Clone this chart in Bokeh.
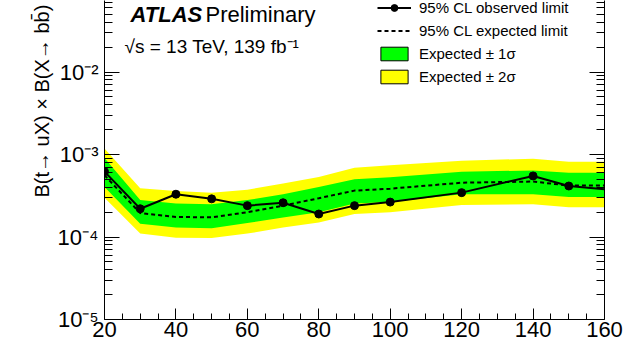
import math
from bokeh.plotting import figure
from bokeh.models import (FixedTicker, LogAxis, Label, Legend, LegendItem,
                          Range1d, CustomJSTickFormatter, Title)
from bokeh.embed import file_html
from bokeh.resources import INLINE

# ---------------- data ----------------
masses = [20, 30, 40, 50, 60, 70, 80, 90, 100, 120, 140, 150, 160]
observed = [6.2e-4, 2.2e-4, 3.3e-4, 2.9e-4, 2.4e-4, 2.6e-4, 1.9e-4,
            2.4e-4, 2.65e-4, 3.45e-4, 5.5e-4, 4.15e-4, 3.8e-4]
expected = [5.6e-4, 1.95e-4, 1.75e-4, 1.73e-4, 2.0e-4, 2.4e-4, 2.95e-4,
            3.65e-4, 3.85e-4, 4.55e-4, 4.7e-4, 4.2e-4, 4.2e-4]
exp_p1 = [9.1e-4, 2.8e-4, 2.55e-4, 2.5e-4, 2.8e-4, 3.3e-4, 4.05e-4,
          5.0e-4, 5.3e-4, 6.2e-4, 6.4e-4, 6.0e-4, 6.0e-4]
exp_m1 = [4.05e-4, 1.45e-4, 1.3e-4, 1.28e-4, 1.48e-4, 1.72e-4, 2.0e-4,
          2.55e-4, 2.65e-4, 3.3e-4, 3.3e-4, 3.05e-4, 3.05e-4]
exp_p2 = [1.18e-3, 3.9e-4, 3.6e-4, 3.45e-4, 3.75e-4, 4.45e-4, 5.35e-4,
          6.9e-4, 7.4e-4, 8.4e-4, 8.9e-4, 8.15e-4, 8.15e-4]
exp_m2 = [3.0e-4, 1.1e-4, 9.8e-5, 9.7e-5, 1.1e-4, 1.3e-4, 1.5e-4,
          1.9e-4, 2.0e-4, 2.45e-4, 2.5e-4, 2.3e-4, 2.3e-4]
marker_masses = masses[:-1]
marker_observed = observed[:-1]

x_major = [20, 40, 60, 80, 100, 120, 140, 160]
x_minor = [25, 30, 35, 45, 50, 55, 65, 70, 75, 85, 90, 95, 105, 110, 115,
           125, 130, 135, 145, 150, 155]
y_major = [1e-5, 1e-4, 1e-3, 1e-2, 1e-1]
y_major_labels = ["10⁻⁵", "10⁻⁴", "10⁻³", "10⁻²", "10⁻¹"]

y_title = "B(t→ uX) × B(X→ bb̄)"
legend_labels = ["95% CL observed limit", "95% CL expected limit",
                 "Expected ± 1σ", "Expected ± 2σ"]

# ---------------- layout ----------------
FONT = "Liberation Sans"
W, H = 624, 344
FRAME_L, FRAME_R = 104, 604         # canvas px
BOTTOM_BORDER = 25
FRAME_B = H - BOTTOM_BORDER         # canvas px of 1e-5
Y_1E3 = 154                         # canvas px of 1e-3
decade = (FRAME_B - Y_1E3) / 2.0
y_top = 10 ** (-3 + Y_1E3 / decade)


def xd(cx):
    return 20 + (cx - FRAME_L) * 140.0 / (FRAME_R - FRAME_L)


def yd(cy):
    return 10 ** (-3 + (Y_1E3 - cy) / decade)


p = figure(width=W, height=H, output_backend="svg", toolbar_location=None,
           y_axis_type="log", x_range=Range1d(20, 160),
           y_range=Range1d(1e-5, y_top),
           min_border_left=FRAME_L, min_border_right=W - FRAME_R,
           min_border_top=0, min_border_bottom=BOTTOM_BORDER)
p.outline_line_color = None
p.xgrid.visible = False
p.ygrid.visible = False
p.background_fill_color = "white"
p.border_fill_color = "white"

xt = FixedTicker(ticks=x_major, minor_ticks=x_minor)
yminor = [k * 10 ** e for e in range(-5, -1) for k in range(2, 10)]
yt = FixedTicker(ticks=y_major, minor_ticks=yminor)

xa = p.xaxis[0]
xa.ticker = xt
xa.major_tick_in = 11
xa.major_tick_out = 0
xa.minor_tick_in = 6
xa.minor_tick_out = 0
xa.major_label_standoff = 2
xa.major_label_text_font = FONT
xa.major_label_text_font_size = "22px"
xa.major_label_text_color = "black"
xa.axis_line_color = "black"

ya = p.yaxis[0]
ya.ticker = yt
ya.major_tick_in = 15
ya.major_tick_out = 0
ya.minor_tick_in = 8
ya.minor_tick_out = 0
ya.major_label_standoff = 6
ya.major_label_overrides = dict(zip(y_major, y_major_labels))
ya.major_label_text_font = FONT
ya.major_label_text_font_size = "22px"
ya.major_label_text_color = "black"
ya.axis_line_color = "black"

ra = LogAxis(ticker=yt, formatter=CustomJSTickFormatter(code="return ''"),
             major_tick_in=15, major_tick_out=0, minor_tick_in=8,
             minor_tick_out=0, major_label_standoff=0,
             axis_line_color="black")
p.add_layout(ra, "right")

# y-axis title, as a rotated title on the left
p.add_layout(Title(text=y_title, align="left", offset=122, standoff=4,
                   text_font=FONT, text_font_style="normal",
                   text_font_size="20px", text_color="black"), "left")

# bands
p.varea(x=masses, y1=exp_m2, y2=exp_p2, fill_color="#ffff00")
p.varea(x=masses, y1=exp_m1, y2=exp_p1, fill_color="#00ff00")
exp_r = p.line(masses, expected, line_color="black", line_width=2,
               line_dash="4 3")
obs_l = p.line(masses, observed, line_color="black", line_width=2)
obs_s = p.scatter(marker_masses, marker_observed, size=8, color="black")

# legend proxies (nothing drawn in the plot)
nan = float("nan")
g_proxy = p.quad(left=[nan], right=[nan], top=[nan], bottom=[nan],
                 fill_color="#00ff00", line_color="black", line_width=1)
y_proxy = p.quad(left=[nan], right=[nan], top=[nan], bottom=[nan],
                 fill_color="#ffff00", line_color="black", line_width=1)

LEG_ROW, LEG_SP, N = 17, 6, 4
leg_h = N * LEG_ROW + (N - 1) * LEG_SP
legend = Legend(items=[
    LegendItem(label=legend_labels[0], renderers=[obs_l, obs_s]),
    LegendItem(label=legend_labels[1], renderers=[exp_r]),
    LegendItem(label=legend_labels[2], renderers=[g_proxy]),
    LegendItem(label=legend_labels[3], renderers=[y_proxy]),
], location=(377 - FRAME_L, FRAME_B - leg_h + 1), glyph_width=34,
    glyph_height=LEG_ROW, label_height=LEG_ROW, spacing=LEG_SP,
    label_standoff=8, padding=0, margin=0, border_line_color=None,
    background_fill_alpha=0, label_text_font=FONT,
    label_text_font_size="15px", label_text_color="black")
p.add_layout(legend, "center")

# texts
p.add_layout(Label(x=xd(130), y=yd(14), text="ATLAS", text_font=FONT,
                   text_font_style="bold italic", text_font_size="22px",
                   text_baseline="alphabetic", text_color="black"))
p.add_layout(Label(x=xd(205), y=yd(14), text="Preliminary", text_font=FONT,
                   text_font_size="22px", text_baseline="alphabetic",
                   text_color="black"))
p.add_layout(Label(x=xd(124), y=yd(46), text="√s = 13 TeV, 139 fb⁻¹",
                   text_font=FONT, text_font_size="19px",
                   text_baseline="alphabetic", text_color="black"))

open("out.html", "w").write(file_html(p, INLINE))
